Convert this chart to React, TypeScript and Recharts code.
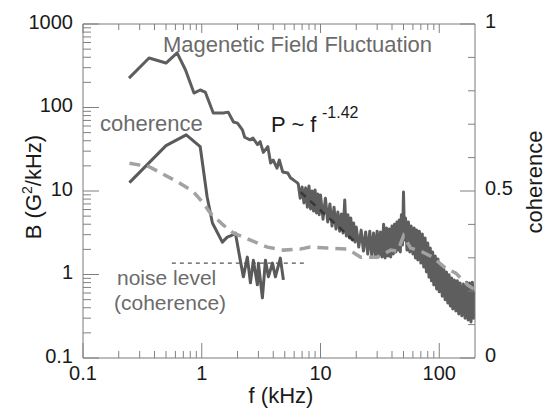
import { ComposedChart, Line, XAxis, YAxis } from "recharts";

const FONT = '"Liberation Sans", Arial, Helvetica, sans-serif';

// magnetic field fluctuation spectrum: f (kHz) -> B (G^2/kHz)
const magneticFreq = [
  0.244, 0.36, 0.5, 0.62, 0.73, 0.86, 0.97, 1.07, 1.25, 1.52, 1.67, 1.85, 2.0, 2.2, 2.3, 2.55, 2.7, 2.95, 3.1, 3.3,
  3.6, 3.8, 4.0, 4.3, 4.5, 4.8, 5.3, 5.6, 5.9, 6.4,
  6.5, 6.75, 7, 7.25, 7.5, 7.75, 8, 8.25, 8.5, 8.75, 9, 9.25, 9.5, 9.75, 10,
  10.5, 11, 11.5, 12, 12.5, 13, 13.5, 14, 14.5, 15, 15.5, 16, 16.5, 17, 17.5, 18, 18.5, 19, 19.5, 20,
  21, 22, 23, 24, 25, 26, 27, 28, 29, 30, 31, 32, 33,
  34, 35, 36, 37, 38, 39, 40, 41, 42, 43, 44, 45, 46, 47, 48, 49, 50, 51, 52, 53.5,
  55, 56.5, 58, 60, 61.5, 63, 64.5, 66, 68, 70, 72, 74, 76, 78, 80, 82, 84, 86, 88, 90,
  92.5, 95, 97.5, 100, 103, 106, 109, 112, 115, 118, 121, 124, 127, 130, 134, 138, 142, 146, 150, 155,
  160, 165, 170, 175, 180, 185, 190, 195, 200,
];
const magneticPower = [
  225, 392, 341, 450, 281, 149, 162, 153, 86, 86, 88, 67, 65, 54, 44, 41, 43, 36, 39, 29,
  34, 21.6, 23.5, 18.8, 23.5, 16.9, 16.4, 14.3, 13.6, 12.5,
  12.1, 8.2, 11.2, 7.2, 10.9, 6.4, 11.5, 6.1, 10.0, 5.75, 10.3, 5.45, 9.2, 5.2, 8.95,
  4.6, 8.2, 4.26, 7.0, 3.8, 6.4, 3.5, 5.6, 3.3, 5.3, 3.14, 7.8, 2.89, 5.2, 2.74, 4.75, 2.59, 4.14, 2.45, 3.7,
  2.13, 3.4, 1.91, 3.23, 1.76, 3.3, 1.71, 3.14, 1.62, 3.3, 1.67, 3.23, 1.62,
  4.0, 1.58, 3.6, 1.67, 3.5, 1.62, 3.8, 1.76, 4.0, 1.86, 4.26, 1.96, 4.5, 1.86, 5.2, 2.25, 9.7, 2.59, 4.75, 1.96,
  4.26, 1.86, 3.8, 1.76, 3.6, 1.58, 3.4, 1.49, 3.3, 1.37, 3.05, 1.23, 2.74, 1.07, 2.38, 0.93, 2.07, 0.84, 1.86, 0.75,
  1.67, 0.67, 1.53, 0.62, 1.34, 0.55, 1.2, 0.5, 1.07, 0.456, 0.99, 0.42, 0.91, 0.386, 0.86, 0.366, 0.84, 0.337, 0.79, 0.32,
  0.77, 0.3, 0.81, 0.285, 0.79, 0.27, 0.81, 0.3, 0.62,
];

// measured coherence (solid)
const coherenceFreq = [
  0.246, 0.5, 0.74, 0.97, 1.11, 1.23, 1.49, 1.64, 1.81, 1.92, 2.11, 2.24, 2.42, 2.57, 2.72, 2.94, 3.0, 3.24, 3.44,
  3.64, 3.94, 4.17, 4.59, 4.87,
];
const coherenceValue = [
  0.525, 0.636, 0.668, 0.633, 0.482, 0.404, 0.347, 0.362, 0.368, 0.374, 0.293, 0.243, 0.302, 0.225, 0.293, 0.219,
  0.284, 0.18, 0.293, 0.243, 0.284, 0.243, 0.299, 0.234,
];

// second coherence curve (dashed)
const dashedFreq = [
  0.246, 0.36, 0.62, 0.85, 1.03, 1.18, 1.52, 1.85, 2.57, 3.57, 4.87, 6.7, 8.2, 11.5, 16.9, 21.8, 30.3, 39, 44.7, 50,
  57.4, 69.8, 88, 113, 138, 174, 200,
];
const dashedValue = [
  0.583, 0.573, 0.528, 0.498, 0.464, 0.434, 0.398, 0.374, 0.353, 0.332, 0.323, 0.326, 0.332, 0.329, 0.326, 0.302,
  0.302, 0.323, 0.32, 0.365, 0.329, 0.32, 0.302, 0.269, 0.254, 0.218, 0.204,
];

// noise level of the coherence
const noiseFreq = [0.56, 7.8];
const noiseValue = [0.284, 0.284];

// power law fit P ~ f^-1.42 (visible part)
const fitFreq = [6.8, 19];
const fitPower = [9.7, 2.55];

const freqTicks = [
  0.1, 0.2, 0.3, 0.4, 0.5, 0.6, 0.7, 0.8, 0.9, 1, 2, 3, 4, 5, 6, 7, 8, 9, 10, 20, 30, 40, 50, 60, 70, 80, 90, 100,
];
const freqLabels = [0.1, 1, 10, 100];
const powerTicks = [
  0.1, 0.2, 0.3, 0.4, 0.5, 0.6, 0.7, 0.8, 0.9, 1, 2, 3, 4, 5, 6, 7, 8, 9, 10, 20, 30, 40, 50, 60, 70, 80, 90, 100,
  200, 300, 400, 500, 600, 700, 800, 900, 1000,
];
const powerLabels = [0.1, 1, 10, 100, 1000];
const coherenceTicks = [0, 0.1, 0.2, 0.3, 0.4, 0.5, 0.6, 0.7, 0.8, 0.9, 1];
const coherenceLabels = [0, 0.5, 1];

const rows = (xs: number[], ys: number[]) => xs.map((f, i) => ({ f, v: ys[i] }));

const AXIS = "#7a7a7a";
const TICK = "#808080";

const BottomTick = (props: any) => {
  const { x, y, payload } = props;
  const major = freqLabels.includes(payload.value);
  return (
    <g>
      <line x1={x} x2={x} y1={y} y2={y - (major ? 15 : 7)} stroke={TICK} />
      {major && (
        <text x={x} y={y + 22} textAnchor="middle" fontSize={20} fontFamily={FONT} fill="#1a1a1a">
          {String(payload.value)}
        </text>
      )}
    </g>
  );
};

const TopTick = (props: any) => {
  const { x, y, payload } = props;
  const major = freqLabels.includes(payload.value);
  return <line x1={x} x2={x} y1={y} y2={y + (major ? 9 : 6)} stroke={TICK} />;
};

const LeftTick = (props: any) => {
  const { x, y, payload } = props;
  const major = powerLabels.includes(payload.value);
  return (
    <g>
      <line x1={x} x2={x + (major ? 16 : 8)} y1={y} y2={y} stroke={TICK} />
      {major && (
        <text x={x - 10} y={y + 4.5} textAnchor="end" fontSize={20} fontFamily={FONT} fill="#1a1a1a">
          {String(payload.value)}
        </text>
      )}
    </g>
  );
};

const RightTick = (props: any) => {
  const { x, y, payload } = props;
  const major = coherenceLabels.includes(payload.value);
  return (
    <g>
      <line x1={x} x2={x - (major ? 15 : 7)} y1={y} y2={y} stroke={TICK} />
      {major && (
        <text x={x + 10} y={y + 4} textAnchor="start" fontSize={20} fontFamily={FONT} fill="#1a1a1a">
          {String(payload.value)}
        </text>
      )}
    </g>
  );
};

export default function App() {
  const grey = "#6b6b6b";
  return (
    <div style={{ position: "absolute", left: 0, top: 0, width: 551, height: 410, background: "#fff" }}>
      <ComposedChart width={551} height={410} margin={{ top: 0, right: 0, bottom: 0, left: 0 }}>
        <XAxis
          xAxisId="b"
          dataKey="f"
          type="number"
          scale="log"
          domain={[0.1, 200]}
          allowDataOverflow
          ticks={freqTicks}
          interval={0}
          height={52}
          tickSize={0}
          tickMargin={0}
          tickLine={false}
          axisLine={{ stroke: AXIS }}
          tick={BottomTick}
        />
        <XAxis
          xAxisId="t"
          orientation="top"
          dataKey="f"
          type="number"
          scale="log"
          domain={[0.1, 200]}
          allowDataOverflow
          ticks={freqTicks}
          interval={0}
          height={24}
          tickSize={0}
          tickMargin={0}
          tickLine={false}
          axisLine={{ stroke: AXIS }}
          tick={TopTick}
        />
        <YAxis
          yAxisId="l"
          type="number"
          scale="log"
          domain={[0.1, 1000]}
          allowDataOverflow
          ticks={powerTicks}
          interval={0}
          width={83}
          tickSize={0}
          tickMargin={0}
          tickLine={false}
          axisLine={{ stroke: AXIS }}
          tick={LeftTick}
        />
        <YAxis
          yAxisId="r"
          orientation="right"
          type="number"
          domain={[0, 1]}
          allowDataOverflow
          ticks={coherenceTicks}
          interval={0}
          width={76}
          tickSize={0}
          tickMargin={0}
          tickLine={false}
          axisLine={{ stroke: AXIS }}
          tick={RightTick}
        />
        <Line
          data={rows(magneticFreq, magneticPower)}
          dataKey="v"
          xAxisId="b"
          yAxisId="l"
          type="linear"
          stroke="#5e5e5e"
          strokeWidth={3}
          strokeLinejoin="round"
          dot={false}
          isAnimationActive={false}
        />
        <Line
          data={rows(coherenceFreq, coherenceValue)}
          dataKey="v"
          xAxisId="b"
          yAxisId="r"
          type="linear"
          stroke="#5a5a5a"
          strokeWidth={3}
          strokeLinejoin="round"
          dot={false}
          isAnimationActive={false}
        />
        <Line
          data={rows(noiseFreq, noiseValue)}
          dataKey="v"
          xAxisId="b"
          yAxisId="r"
          type="linear"
          stroke="#555"
          strokeWidth={1.3}
          strokeDasharray="4 4"
          dot={false}
          isAnimationActive={false}
        />
        <Line
          data={rows(fitFreq, fitPower)}
          dataKey="v"
          xAxisId="b"
          yAxisId="l"
          type="linear"
          stroke="#383838"
          strokeWidth={2.5}
          strokeDasharray="7 6"
          dot={false}
          isAnimationActive={false}
        />
        <Line
          data={rows(dashedFreq, dashedValue)}
          dataKey="v"
          xAxisId="b"
          yAxisId="r"
          type="linear"
          stroke="#a2a2a2"
          strokeWidth={3.5}
          strokeDasharray="11 7"
          dot={false}
          isAnimationActive={false}
        />
      </ComposedChart>
      <svg
        width={551}
        height={410}
        style={{ position: "absolute", left: 0, top: 0, pointerEvents: "none" }}
        fontFamily={FONT}
      >
        <text x={163} y={52} fontSize={22} fill={grey}>
          Magenetic Field Fluctuation
        </text>
        <text x={100} y={131} fontSize={22} fill={grey}>
          coherence
        </text>
        <text x={271} y={132} fontSize={22} fill="#1a1a1a">
          P ~ f
        </text>
        <text x={322} y={118} fontSize={16} fill="#1a1a1a">
          -1.42
        </text>
        <text x={117} y={285} fontSize={21} fill={grey}>
          noise level
        </text>
        <text x={114} y={310} fontSize={21} fill={grey}>
          (coherence)
        </text>
        <text transform="translate(41,187) rotate(-90)" textAnchor="middle" fontSize={22} fill="#1a1a1a">
          B (G
          <tspan fontSize={14} dy={-9}>
            2
          </tspan>
          <tspan dy={9}>/kHz)</tspan>
        </text>
        <text transform="translate(542,182) rotate(-90)" textAnchor="middle" fontSize={22} fill="#1a1a1a">
          coherence
        </text>
        <text x={281} y={403} textAnchor="middle" fontSize={22} fill="#1a1a1a">
          f (kHz)
        </text>
      </svg>
    </div>
  );
}
